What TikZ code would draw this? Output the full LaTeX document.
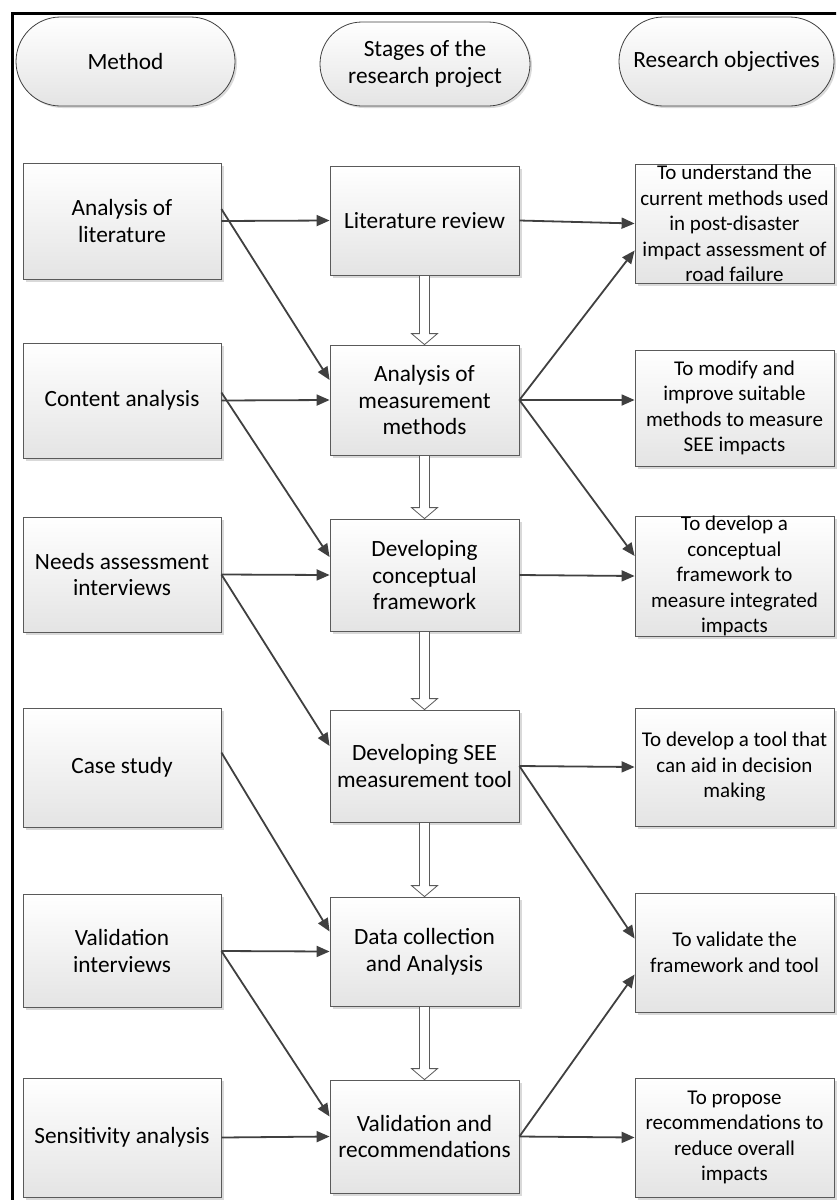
\documentclass[tikz,border=0pt]{standalone}
\usepackage{fontspec}
\setmainfont{Carlito}
\usetikzlibrary{arrows.meta,calc,shapes.misc,shadows}
\definecolor{boxline}{HTML}{5A5A5A}
\definecolor{arrowc}{HTML}{404040}
\definecolor{boxgray}{HTML}{E4E4E4}
\definecolor{shadowc}{HTML}{D9D9D9}
% hollow block arrow between two stage boxes
\newcommand\blockarrow[2]{%
  \draw[blockarr] let \p1=(#1.south), \p2=(#2.north) in
    (\x1-5pt,\y1) -- (\x1-5pt,\y2+11pt) -- (\x1-13pt,\y2+11pt) -- (\x1,\y2)
    -- (\x1+13pt,\y2+11pt) -- (\x1+5pt,\y2+11pt) -- (\x1+5pt,\y1) -- cycle;}
\begin{document}
\begin{tikzpicture}[x=1pt,y=-1pt,
  every node/.style={font=\fontsize{23.3}{26.7}\selectfont, align=center, inner sep=0pt},
  box/.style={draw=boxline, line width=0.8pt, top color=white, bottom color=boxgray,
    drop shadow={shadow xshift=2.5pt, shadow yshift=-2.5pt, fill=shadowc, opacity=1}},
  lbox/.style={box, minimum width=198pt},
  cbox/.style={box, minimum width=189pt},
  rbox/.style={box, minimum width=199pt, font=\fontsize{21}{25.5}\selectfont},
  header/.style={rounded rectangle, draw=arrowc, line width=0.8pt, top color=white, bottom color=boxgray,
    drop shadow={shadow xshift=2pt, shadow yshift=-2pt, fill=shadowc, opacity=1}},
  conn/.style={draw=arrowc, line width=1.8pt, -{Triangle[length=13pt,width=11pt]}},
  blockarr/.style={draw=boxline, line width=0.8pt, fill=white}]
\useasboundingbox (0,0) rectangle (836,1200);
\begin{scope}
\clip (0,0) rectangle (836,1200);
\draw[line width=3pt] (12.5,13.5) rectangle (900,1300);
\end{scope}

% column headers
\node[header, minimum width=219pt, minimum height=89pt] (h1) at (125.5,61.5) {Method};
\node[header, minimum width=210pt, minimum height=84pt] (h2) at (425,64) {Stages of the\\research project};
\node[header, minimum width=215pt, minimum height=89pt] (h3) at (726.5,61.5) {Research objectives};

% methods
\node[lbox, minimum height=116pt] (L1) at (122,221) {Analysis of\\literature};
\node[lbox, minimum height=115pt] (L2) at (122,400.5) {Content analysis};
\node[lbox, minimum height=115pt] (L3) at (122,574.5) {Needs assessment\\interviews};
\node[lbox, minimum height=119pt] (L4) at (122,767.5) {Case study};
\node[lbox, minimum height=113pt] (L5) at (122,951) {Validation\\interviews};
\node[lbox, minimum height=119pt] (L6) at (122,1137.5) {Sensitivity analysis};

% stages
\node[cbox, minimum height=109pt] (C1) at (424.5,220.5) {Literature review};
\node[cbox, minimum height=110pt] (C2) at (424.5,400) {Analysis of\\measurement\\methods};
\node[cbox, minimum height=112pt] (C3) at (424.5,575) {Developing\\conceptual\\framework};
\node[cbox, minimum height=112pt] (C4) at (424.5,766) {Developing SEE\\measurement tool};
\node[cbox, minimum height=109pt] (C5) at (424.5,951.5) {Data collection\\and Analysis};
\node[cbox, minimum height=113pt] (C6) at (424.5,1136.5) {Validation and\\recommendations};

% objectives
\node[rbox, minimum height=119pt] (R1) at (734.5,223.5) {To understand the\\current methods used\\in post-disaster\\impact assessment of\\road failure};
\node[rbox, minimum height=116pt] (R2) at (734.5,408) {To modify and\\improve suitable\\methods to measure\\SEE impacts};
\node[rbox, minimum height=120pt] (R3) at (734.5,576) {To develop a\\conceptual\\framework to\\measure integrated\\impacts};
\node[rbox, minimum height=118pt] (R4) at (734.5,767) {To develop a tool that\\can aid in decision\\making};
\node[rbox, minimum height=119pt] (R5) at (734.5,952.5) {To validate the\\framework and tool};
\node[rbox, minimum height=119pt] (R6) at (734.5,1137.5) {To propose\\recommendations to\\reduce overall\\impacts};

% flow between stages
\blockarrow{C1}{C2}
\blockarrow{C2}{C3}
\blockarrow{C3}{C4}
\blockarrow{C4}{C5}
\blockarrow{C5}{C6}

% methods feeding stages
\draw[conn] (L1.east) -- (C1.west);
\draw[conn] ($(L1.east)+(0,-12)$) -- ($(C2.west)+(0,-20)$);
\draw[conn] (L2.east) -- (C2.west);
\draw[conn] ($(L2.east)+(0,-8)$) -- ($(C3.west)+(0,-18)$);
\draw[conn] (L3.east) -- (C3.west);
\draw[conn] (L3.east) -- ($(C4.west)+(0,-20)$);
\draw[conn] ($(L4.east)+(0,-15)$) -- ($(C5.west)+(0,-20)$);
\draw[conn] (L5.east) -- (C5.west);
\draw[conn] (L5.east) -- ($(C6.west)+(0,-20)$);
\draw[conn] (L6.east) -- (C6.west);

% stages meeting objectives
\draw[conn] (C1.east) -- (R1.west);
\draw[conn] (C2.east) -- ($(R1.west)+(0,27)$);
\draw[conn] (C2.east) -- (C2.east -| R2.west);
\draw[conn] (C2.east) -- ($(R3.west)+(0,-20)$);
\draw[conn] (C3.east) -- (R3.west);
\draw[conn] (C4.east) -- (R4.west);
\draw[conn] (C4.east) -- ($(R5.west)+(0,-14)$);
\draw[conn] (C6.east) -- ($(R5.west)+(0,22)$);
\draw[conn] (C6.east) -- (R6.west);
\end{tikzpicture}
\end{document}
